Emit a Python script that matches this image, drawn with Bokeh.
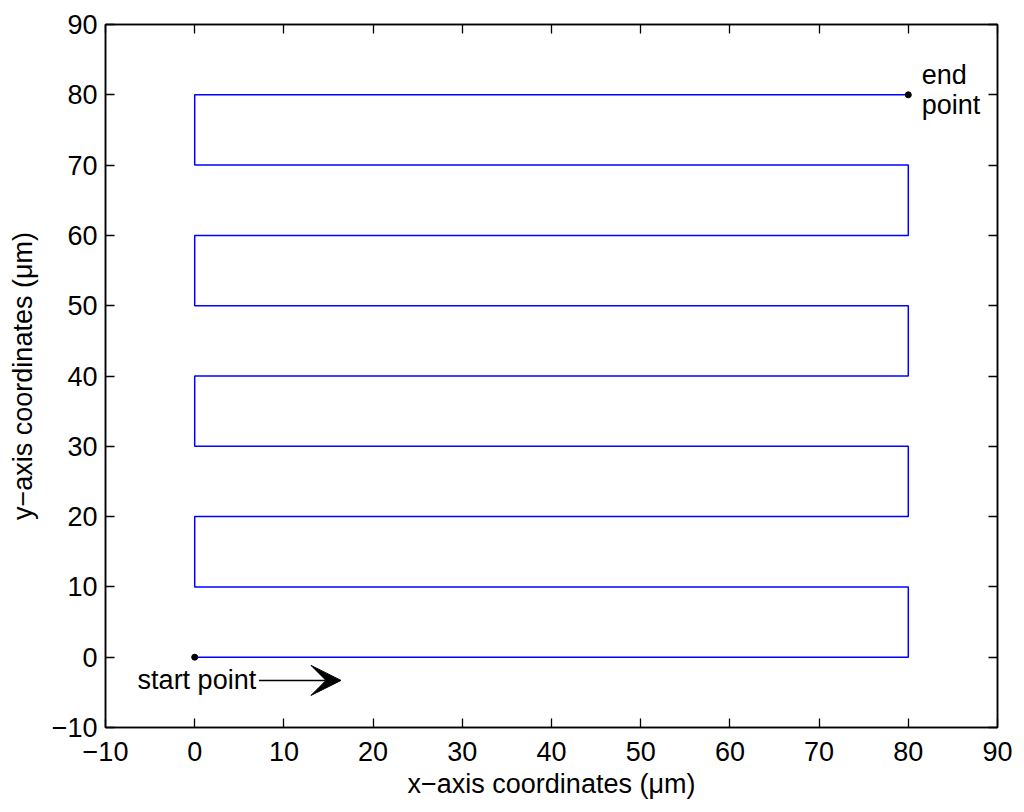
from bokeh.plotting import figure
from bokeh.models import Range1d, LinearAxis, FixedTicker, Arrow, VeeHead, Label
from bokeh.embed import file_html
from bokeh.resources import INLINE

# scan path vertices (µm)
path_x = [0, 80, 80, 0, 0, 80, 80, 0, 0, 80, 80, 0, 0, 80, 80, 0, 0, 80]
path_y = [0, 0, 10, 10, 20, 20, 30, 30, 40, 40, 50, 50, 60, 60, 70, 70, 80, 80]
start_pt = (0, 0)
end_pt = (80, 80)
ticks = [-10, 0, 10, 20, 30, 40, 50, 60, 70, 80, 90]
tick_labels = {t: (str(t).replace("-", "\u2212")) for t in ticks}
blank_labels = {t: "" for t in ticks}

FONT = "Liberation Sans"
FS = "27px"

p = figure(output_backend="svg", toolbar_location=None,
           width=1024, height=812, frame_width=892, frame_height=703,
           x_range=Range1d(-10, 90), y_range=Range1d(-10, 90),
           min_border_left=105, min_border_right=27, min_border_top=24, min_border_bottom=85,
           x_axis_label="x\u2212axis coordinates (\u03bcm)",
           y_axis_label="y\u2212axis coordinates (\u03bcm)")
p.grid.visible = False
p.background_fill_color = "white"
p.border_fill_color = "white"
p.outline_line_color = "black"
p.outline_line_width = 1.5

def style(ax, labels=True):
    ax.ticker = FixedTicker(ticks=ticks)
    ax.major_tick_in = 9
    ax.major_tick_out = 0
    ax.minor_tick_in = 0
    ax.minor_tick_out = 0
    ax.axis_line_color = "black"
    ax.axis_line_width = 1.5
    ax.major_tick_line_color = "black"
    ax.major_tick_line_width = 1.3
    ax.major_label_text_font = FONT
    ax.major_label_text_font_size = FS
    ax.major_label_text_color = "black"
    ax.axis_label_text_font = FONT
    ax.axis_label_text_font_size = FS
    ax.axis_label_text_font_style = "normal"
    ax.axis_label_text_color = "black"
    ax.major_label_standoff = 8
    ax.axis_label_standoff = 4
    if labels:
        ax.major_label_overrides = tick_labels
    else:
        ax.major_label_overrides = blank_labels
        ax.major_label_standoff = 0

for ax in p.xaxis + p.yaxis:
    style(ax)
for ax in p.xaxis:
    ax.major_label_standoff = 14
    ax.axis_label_standoff = 5
for ax in p.yaxis:
    ax.axis_label_standoff = 11

right_ax = LinearAxis()
p.add_layout(right_ax, "right")
style(right_ax, labels=False)
top_ax = LinearAxis()
p.add_layout(top_ax, "above")
style(top_ax, labels=False)

p.line(path_x, path_y, line_color="#0000ff", line_width=1.5)
p.scatter([start_pt[0], end_pt[0]], [start_pt[1], end_pt[1]], size=6, color="black")

p.add_layout(Label(x=-6.4, y=-3.3, text="start point", text_font=FONT,
                   text_font_size=FS, text_baseline="middle", text_color="black"))
p.add_layout(Arrow(x_start=7.2, y_start=-3.3, x_end=16.4, y_end=-3.3,
                   line_color="black", line_width=1.5,
                   end=VeeHead(size=30, fill_color="black", line_color="black")))
p.add_layout(Label(x=81.5, y=82.8, text="end", text_font=FONT,
                   text_font_size=FS, text_baseline="middle", text_color="black"))
p.add_layout(Label(x=81.5, y=78.6, text="point", text_font=FONT,
                   text_font_size=FS, text_baseline="middle", text_color="black"))

open("out.html", "w").write(file_html(p, INLINE))
